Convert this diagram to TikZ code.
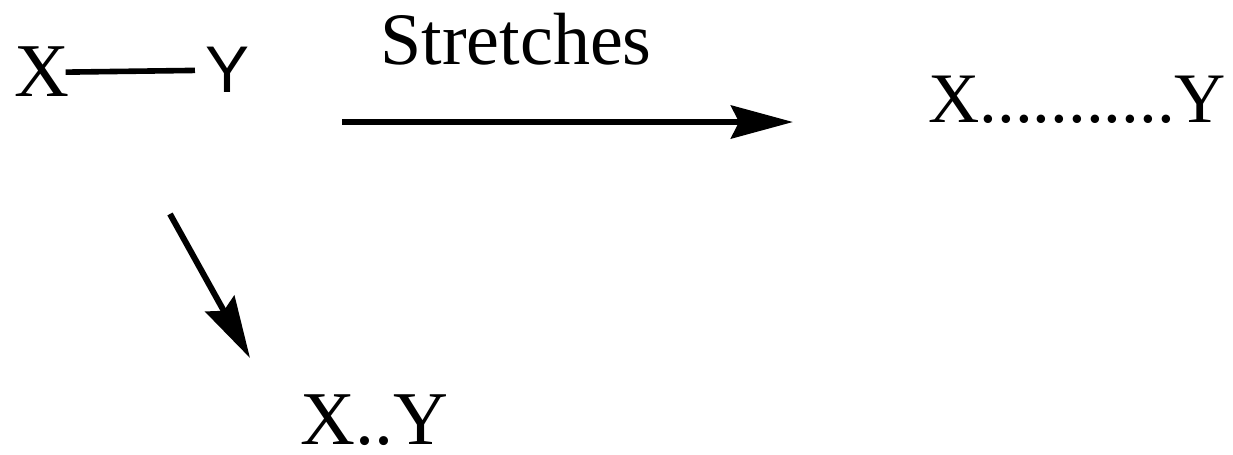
\documentclass[tikz,border=0pt]{standalone}
\usepackage{fontspec}
\setmainfont{Liberation Serif}
\newfontfamily\arialfont{Liberation Sans}
\usetikzlibrary{arrows.meta}
\begin{document}
\begin{tikzpicture}[
    lbl/.style={inner sep=0pt, anchor=base west, font=\fontsize{38}{40}\selectfont},
    bigarrow/.style={line width=3pt, -{Stealth[length=31pt, width=16.5pt, inset=4pt]}}
  ]
  \useasboundingbox (0,0) rectangle (21.667,7.978);

  % bonded pair
  \draw (0.246,6.274) node[lbl] (x1) {X};
  \draw (3.602,6.344) node[lbl, font=\fontsize{33}{36}\selectfont\arialfont] (y1) {Y};
  \draw[line width=2.8pt, shorten <=-2pt, shorten >=5pt] (x1.east) -- (y1.west);

  % stretched pair
  \coordinate (a1) at (6.010,5.834);
  \coordinate (a2) at (13.935,5.834);
  \draw[bigarrow] (a1) -- (a2);
  \draw (6.678,6.853) node[lbl, font=\fontsize{37}{40}\selectfont] (s) {Stretches};
  \draw (16.308,5.817) node[lbl, font=\fontsize{35.5}{38}\selectfont] (x2) {X...........Y};

  % shortened pair
  \coordinate (b1) at (2.987,4.218);
  \coordinate (b2) at (4.393,1.687);
  \draw[bigarrow] (b1) -- (b2);
  \draw (5.270,0.170) node[lbl] (x3) {X..Y};

\end{tikzpicture}
\end{document}
